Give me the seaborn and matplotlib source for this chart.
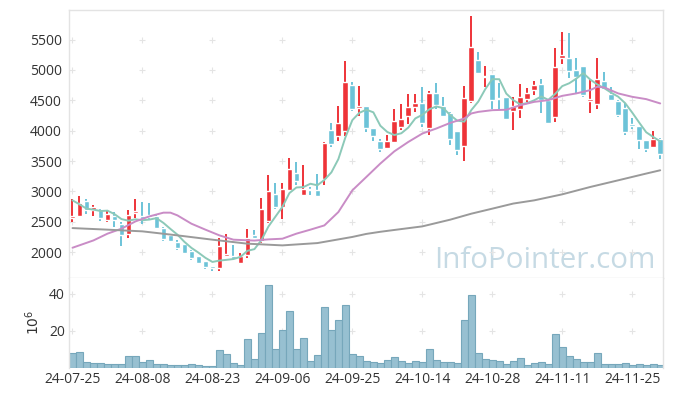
import numpy as np
import pandas as pd
import seaborn as sns
from matplotlib import pyplot as plt

# Etiquetes de l'eix x (una cada 10 sessions)
tick_pos = [0, 10, 20, 30, 40, 50, 60, 70, 80]
tick_labels = ["24-07-25", "24-08-08", "24-08-23", "24-09-06", "24-09-25",
               "24-10-14", "24-10-28", "24-11-11", "24-11-25"]

# Preus diaris (OHLC)
obertura = [2555, 2594, 2837, 2688, 2688, 2523, 2589, 2457, 2304, 2644,
            2589, 2605, 2590, 2396, 2287, 2165, 2127, 2017, 1929, 1847,
            1769, 1736, 1929, 1940, 1819, 1945, 2287, 2177, 2512, 2952,
            2743, 3030, 3299, 2947, 3035, 3030, 3200, 4008, 3914, 3997,
            4750, 4376, 4404, 4046, 3832, 3723, 3815, 4063, 4244, 4383,
            4449, 4046, 4614, 4404, 4284, 3992, 3749, 4492, 5163, 4878,
            4932, 4536, 4558, 4327, 4350, 4520, 4668, 4767, 4503, 4228,
            5191, 5191, 4998, 5064, 4492, 4437, 4817, 4602, 4492, 4376,
            4107, 4074, 3843, 3733, 3871]
maxim = [2870, 2920, 2880, 2770, 2716, 2700, 2660, 2495, 2700, 2880,
         2820, 2810, 2635, 2410, 2300, 2205, 2140, 2030, 1935, 1860,
         1775, 2231, 2304, 2122, 1985, 2386, 2358, 2898, 3266, 3139,
         3139, 3558, 3485, 3431, 3073, 3282, 3810, 4129, 4409, 5147,
         4795, 4739, 4410, 4050, 3871, 3926, 4350, 4432, 4597, 4597,
         4723, 4657, 4789, 4558, 4310, 4000, 4739, 5894, 5290, 5069,
         4940, 4789, 4560, 4558, 4762, 4696, 4817, 4844, 4510, 5356,
         5620, 5603, 5191, 5070, 4850, 5191, 4970, 4713, 4500, 4449,
         4201, 4080, 3850, 3992, 3880]
minim = [2490, 2590, 2635, 2590, 2506, 2495, 2413, 2100, 2238, 2567,
         2457, 2540, 2390, 2177, 2165, 2028, 1970, 1875, 1810, 1715,
         1690, 1690, 1925, 1880, 1815, 1907, 2210, 2149, 2479, 2705,
         2551, 3007, 3100, 2945, 2947, 2908, 3100, 3733, 3832, 3909,
         4327, 4239, 3980, 3832, 3650, 3715, 3800, 4008, 4107, 4310,
         4053, 3926, 4350, 4240, 3772, 3596, 3502, 4460, 4930, 4713,
         4350, 4350, 4180, 4008, 4201, 4480, 4586, 4284, 4110, 4145,
         5097, 4861, 4614, 4560, 4294, 4350, 4670, 4490, 4218, 3937,
         4020, 3706, 3650, 3720, 3541]
tancament = [2590, 2808, 2688, 2737, 2561, 2622, 2523, 2276, 2605, 2677,
             2545, 2577, 2396, 2210, 2182, 2073, 1983, 1901, 1819, 1753,
             1736, 2094, 1962, 1885, 1929, 2238, 2231, 2705, 3002, 2743,
             3046, 3365, 3167, 3035, 3018, 2919, 3805, 3789, 4129, 4800,
             4350, 4404, 4046, 3914, 3695, 3832, 4157, 4190, 4383, 4449,
             4129, 4614, 4421, 4244, 3871, 3678, 4531, 5373, 4944, 4899,
             4503, 4520, 4190, 4404, 4548, 4614, 4751, 4503, 4129, 5043,
             5246, 4987, 4878, 4586, 4515, 4845, 4680, 4503, 4256, 3980,
             4074, 3855, 3706, 3871, 3612]

# Volum (milions)
volum = [7.9, 8.6, 2.9, 2.4, 2.4, 1.8, 1.8, 1.8, 6.2, 6.2,
         2.9, 4.0, 1.8, 1.8, 1.3, 1.3, 1.3, 1.8, 1.3, 0.7,
         0.7, 9.5, 7.3, 2.4, 1.3, 15.6, 4.6, 18.9, 44.8, 10.1,
         20.6, 30.5, 10.1, 16.1, 3.5, 6.8, 32.7, 20.6, 25.5, 33.9,
         7.2, 6.1, 3.3, 2.8, 2.2, 3.9, 5.5, 3.3, 2.2, 3.3,
         2.8, 9.9, 3.9, 2.8, 2.8, 2.2, 25.9, 39.1, 7.7, 4.4,
         3.9, 3.3, 1.7, 3.3, 5.0, 1.1, 2.2, 2.8, 1.7, 18.2,
         11.0, 6.1, 4.4, 2.8, 2.8, 7.7, 1.7, 1.7, 1.7, 2.2,
         1.1, 1.7, 1.1, 1.7, 1.1]

# Mitjanes mobils llegides del grafic
ma5_inici = [2853, 2787, 2716, 2700]
ma20_idx = [0, 3, 5, 7, 9, 11, 13, 14, 15, 17, 19, 21, 23, 26, 28, 30, 32, 34,
            36, 38, 40, 42, 44, 46, 48, 50, 52, 54, 56, 57, 58, 60, 62, 64, 66,
            68, 70, 72, 74, 75, 76, 78, 80, 82, 84]
ma20 = [2072, 2193, 2304, 2386, 2506, 2589, 2650, 2650, 2605, 2468, 2370, 2276,
        2205, 2190, 2210, 2221, 2304, 2370, 2440, 2660, 3018, 3238, 3459, 3660,
        3815, 3953, 4036, 4129, 4201, 4284, 4310, 4338, 4345, 4420, 4475, 4503,
        4574, 4614, 4668, 4723, 4713, 4614, 4558, 4520, 4449]
ma60_idx = [0, 5, 10, 15, 20, 25, 30, 35, 40, 42, 44, 46, 50, 54, 57, 60, 63,
            66, 70, 74, 78, 82, 84]
ma60 = [2396, 2370, 2342, 2276, 2205, 2139, 2111, 2149, 2250, 2300, 2335, 2365,
        2424, 2535, 2633, 2716, 2800, 2853, 2952, 3073, 3183, 3294, 3348]

vermell = "#ee3338"
blau = "#6cc3d8"
vora = "#e3e3e3"

df = pd.DataFrame({"idx": np.arange(len(tancament)), "open": obertura,
                   "high": maxim, "low": minim, "close": tancament, "vol": volum})
df["puja"] = df["close"] >= df["open"]
ma5 = df["close"].rolling(5).mean()
ma5.iloc[:4] = ma5_inici

sns.set_style("white")
plt.rcParams["font.family"] = ["Open Sans", "DejaVu Sans"]

fig = plt.figure(figsize=(6.73, 3.96), dpi=100)
ax = fig.add_axes([69 / 673, 1 - 277.5 / 396, 594 / 673, 267.5 / 396])
axv = fig.add_axes([69 / 673, 1 - 367.5 / 396, 594 / 673, 90 / 396], sharex=ax)

# Espelmes
colors = np.where(df["puja"], vermell, blau)
cos_baix = df[["open", "close"]].min(axis=1)
cos_alt = (df["open"] - df["close"]).abs().clip(lower=16)
ax.vlines(df["idx"], df["low"], df["high"], colors=colors, lw=1.4, zorder=2)
ax.bar(df["idx"], cos_alt, bottom=cos_baix, width=0.82, color=colors, zorder=3)

# Mitjanes
sns.lineplot(x=df["idx"], y=ma5, ax=ax, color="#8cc9b8", lw=1.4, zorder=4)
sns.lineplot(x=ma20_idx, y=ma20, ax=ax, color="#c98cc6", lw=1.4, zorder=4)
sns.lineplot(x=ma60_idx, y=ma60, ax=ax, color="#9a9a9a", lw=1.4, zorder=4)

# Volum
sns.barplot(data=df, x="idx", y="vol", ax=axv, native_scale=True, width=1.0,
            color="#97c0d1", edgecolor="#76a7bb", linewidth=0.8, saturation=1,
            errorbar=None)

# Creus de la graella
yt = [2000, 2500, 3000, 3500, 4000, 4500, 5000, 5500]
gx, gy = np.meshgrid(tick_pos, yt)
ax.plot(gx.ravel(), gy.ravel(), "+", color="#e4e4e4", ms=4.5, mew=0.8, zorder=1)
gx, gy = np.meshgrid(tick_pos, [20, 40])
axv.plot(gx.ravel(), gy.ravel(), "+", color="#e4e4e4", ms=4.5, mew=0.8, zorder=0)

ax.text(0.988, 0.034, "InfoPointer.com", transform=ax.transAxes, ha="right",
        va="baseline", fontsize=21.3, color="#c6dae4", zorder=0)

ax.set_xlim(-0.5, 84.4)
ax.set_ylim(1582, 5988)
ax.set_yticks(yt)
ax.set_xlabel("")
ax.set_ylabel("")
ax.tick_params(axis="x", labelbottom=False, length=0)
ax.tick_params(axis="y", length=0, labelsize=10, colors="#333333", pad=5)

axv.set_ylim(0, 48.8)
axv.set_yticks([20, 40])
axv.set_xticks(tick_pos)
axv.set_xticklabels(tick_labels)
axv.set_xlabel("")
axv.set_ylabel(r"$10^6$", fontsize=10, color="#333333", labelpad=4)
axv.tick_params(length=0, labelsize=10, colors="#333333", pad=3)

for a in (ax, axv):
    for s in a.spines.values():
        s.set_color(vora)
        s.set_linewidth(1)
axv.spines["top"].set_visible(False)
axv.spines["bottom"].set_visible(False)

fig.savefig("out.png", dpi=100)
